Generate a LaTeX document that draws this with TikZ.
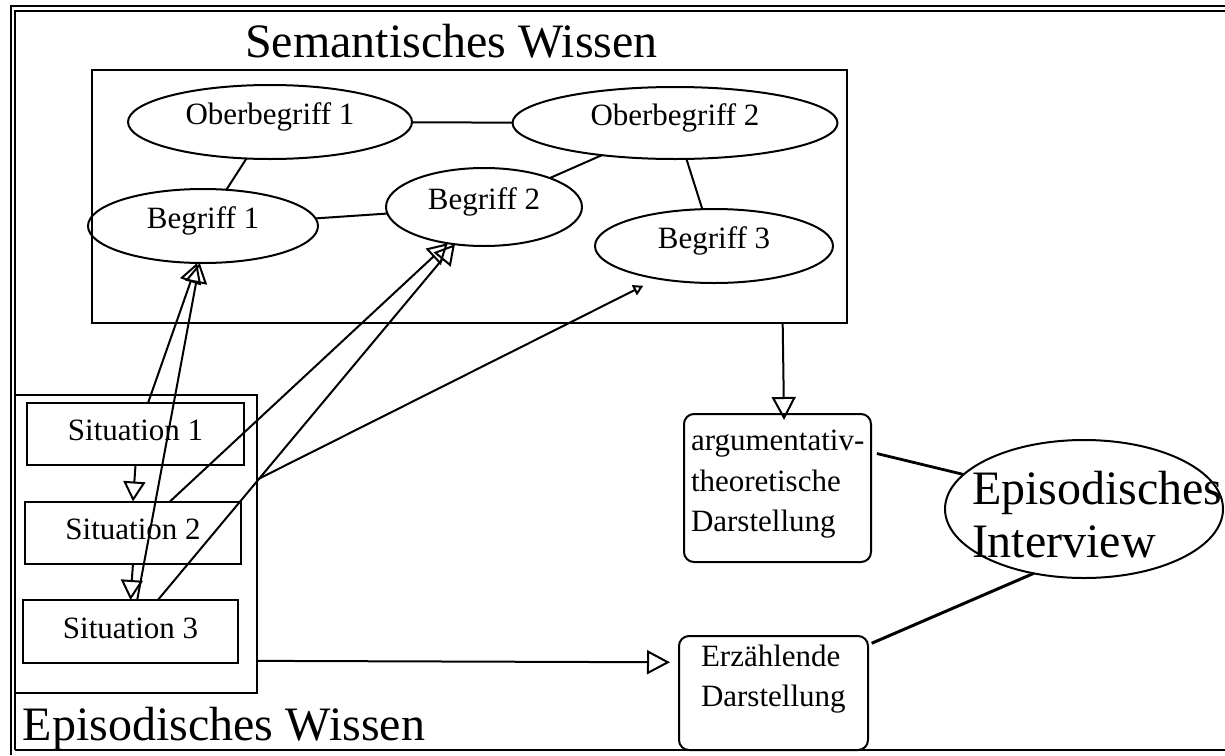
\documentclass[tikz,border=0pt]{standalone}
\usepackage{fontspec}
\setmainfont{Liberation Serif}
\usetikzlibrary{arrows.meta,shapes.geometric}
\begin{document}
\begin{tikzpicture}[x=1pt,y=-1pt, line width=2pt,
  every node/.style={inner sep=0pt, outer sep=0pt},
  smalltext/.style={font=\fontsize{31}{36}\selectfont},
  bigtext/.style={font=\fontsize{48}{54}\selectfont},
  ellnode/.style={draw, ellipse, smalltext, text height=20pt, text depth=16pt},
  plainbox/.style={draw, rectangle},
  sitbox/.style={draw, rectangle, smalltext, minimum width=216pt, minimum height=62pt, text height=20pt, text depth=7pt},
  roundbox/.style={draw, rectangle, rounded corners=10pt},
  openarrow/.style={-{Triangle[open, length=20pt, width=22pt]}},
  bigarrow/.style={-{Triangle[open, length=23pt, width=24pt]}},
  smallarrow/.style={-{Triangle[open, length=10pt, width=11pt]}}
]
\useasboundingbox (0,0) rectangle (1225,755);
\fill[white] (0,0) rectangle (1225,755);
% outer frame
\draw (11,755) -- (11,6) -- (1225,6);
\draw (15,750) -- (15,11) -- (1225,11);
\draw[line width=2.6pt] (15,750) -- (1225,750);

% semantic knowledge
\node[plainbox, minimum width=755pt, minimum height=253pt] (sem) at (469.5,196.5) {};
\node[bigtext, anchor=base west] (semtitle) at (245,57) {Semantisches Wissen};
\node[ellnode, minimum width=284pt, minimum height=74pt] (ob1) at (270,122) {Oberbegriff 1};
\node[ellnode, minimum width=325pt, minimum height=72pt] (ob2) at (675,123) {Oberbegriff 2};
\node[ellnode, minimum width=230pt, minimum height=74pt] (b1) at (203,226) {Begriff 1};
\node[ellnode, minimum width=196pt, minimum height=78pt] (b2) at (484,207) {Begriff 2};
\node[ellnode, minimum width=238pt, minimum height=74pt] (b3) at (714,246) {Begriff 3};
\draw (ob1) -- (ob2);
\draw (ob1) -- (b1);
\draw (b1) -- (b2);
\draw (b2) -- (ob2);
\draw (ob2) -- (b3);

% episodic knowledge
\node[plainbox, minimum width=242pt, minimum height=298pt] (epi) at (136,544) {};
\node[bigtext, anchor=base west] (epititle) at (23,740) {Episodisches Wissen};
\node[sitbox, minimum width=217pt] (s1) at (135.5,434) {Situation 1};
\node[sitbox] (s2) at (133,532.5) {Situation 2};
\node[sitbox, minimum width=215pt, minimum height=63pt] (s3) at (130.5,631.5) {Situation 3};
\draw[openarrow] (s1.south) -- (s2.north);
\draw[openarrow] (s2.south) -- (s3.north);
\draw[openarrow] (s1.68) -- (b1.261);
\draw[openarrow] (s3.78) -- (b1.265);
\draw[openarrow] (s2.40) -- (b2.225);
\draw[openarrow] (s3.49) -- (b2.232);
\draw[smallarrow, shorten >=16pt] (epi.28) -- (b3.210);

% representations
\node[roundbox, minimum width=187pt, minimum height=148pt] (argbox) at (777.5,488) {};
\node[smalltext, anchor=base west] (arg1) at (691,450) {argumentativ-};
\node[smalltext, anchor=base west] (arg2) at (691,491) {theoretische};
\node[smalltext, anchor=base west] (arg3) at (691,531) {Darstellung};
\node[roundbox, minimum width=189pt, minimum height=114pt] (erzbox) at (773.5,693) {};
\node[smalltext, anchor=base west] (erz1) at (701,666) {Erzählende};
\node[smalltext, anchor=base west] (erz2) at (701,706) {Darstellung};
\node[draw, ellipse, minimum width=278pt, minimum height=138pt] (interview) at (1084,509) {};
\node[bigtext, anchor=base west] (int1) at (972,504) {Episodisches};
\node[bigtext, anchor=base west] (int2) at (972,557) {Interview};

\draw[bigarrow, shorten >=-6pt] (sem.-22) -- (argbox.85);
\draw[line width=2.8pt, shorten <=6pt] (argbox.21) -- (interview.164);
\draw[line width=3pt, shorten >=4pt] (interview.232) -- (erzbox.27);
\draw[bigarrow, shorten >=9pt] (epi.-44.3) -- (erzbox.162.4);
\end{tikzpicture}
\end{document}
